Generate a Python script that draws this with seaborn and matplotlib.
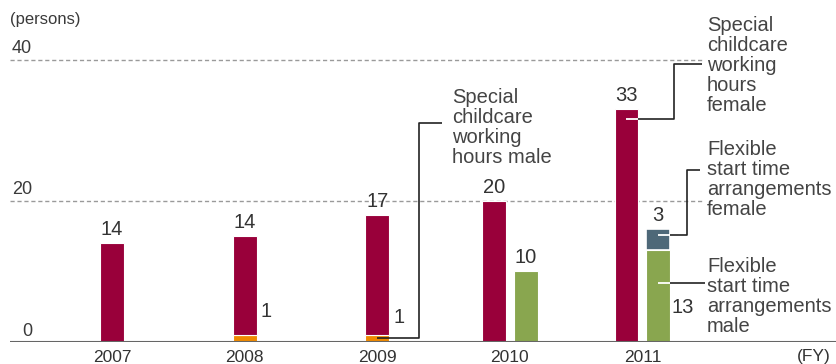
import matplotlib
matplotlib.use("Agg")
import matplotlib.pyplot as plt
import seaborn as sns
import numpy as np

# ---- data ----
years = ["2007", "2008", "2009", "2010", "2011"]
childcare_female = [14, 14, 17, 20, 33]
childcare_male = [0, 1, 1, 0, 0]
flex_male = [0, 0, 0, 10, 13]
flex_female = [0, 0, 0, 0, 3]
y_ticks = [0, 20, 40]

C_RED = "#99003A"
C_ORANGE = "#F08A00"
C_GREEN = "#89A64F"
C_BLUE = "#4E6878"
TXT = "#3a3a3a"

sns.set_theme(style="white")
plt.rcParams["font.family"] = ["Liberation Sans", "DejaVu Sans"]

W, H = 836, 364
X0, SX = 112.0, 132.6   # pixel of first group, pixels per group
Y0, SY = 342.0, 7.06    # pixel of zero line, pixels per unit


def px2x(px):
    return (px - X0) / SX


def py2y(py):
    return (Y0 - py) / SY


fig = plt.figure(figsize=(W / 100, H / 100), dpi=100)
ax = fig.add_axes([0, (H - Y0) / H, 1, Y0 / H])
ax.set_xlim(px2x(0), px2x(W))
ax.set_ylim(0, Y0 / SY)
for s in ax.spines.values():
    s.set_visible(False)
ax.set_yticks([])

bw = 0.18
off = 0.12
idx = np.arange(len(years))
has_flex = np.array([(m + f) > 0 for m, f in zip(flex_male, flex_female)])
pos_cc = idx - np.where(has_flex, off, 0.0)
pos_fx = idx + off

# grid lines & baseline
for t in y_ticks[1:]:
    ax.hlines(t, px2x(10), px2x(703), colors="#9a9a9a", linestyles=(0, (3, 2)), lw=1.0, zorder=1)
ax.hlines(0, px2x(10), px2x(W), colors="#666666", lw=1.5, zorder=4)
for t in y_ticks:
    ax.text(px2x(32), t + 6.5 / SY, str(t), ha="right", va="baseline",
            fontsize=13, color=TXT)
ax.text(px2x(10), py2y(24), "(persons)", ha="left", va="baseline", fontsize=12, color=TXT)

# bars
cm = np.array(childcare_male, dtype=float)
cf = np.array(childcare_female, dtype=float)
fm = np.array(flex_male, dtype=float)
ff = np.array(flex_female, dtype=float)

ax.bar(pos_cc, cm, width=bw, color=C_ORANGE, edgecolor="white", lw=0.8, zorder=3)
ax.bar(pos_cc, cf, bottom=cm, width=bw, color=C_RED, edgecolor="white", lw=0.8, zorder=3)
ax.bar(pos_fx[has_flex], fm[has_flex], width=bw, color=C_GREEN, edgecolor="white", lw=0.8, zorder=3)
ax.bar(pos_fx[ff > 0], ff[ff > 0], bottom=fm[ff > 0], width=bw, color=C_BLUE,
       edgecolor="white", lw=1.2, zorder=3)

# value labels
NUM = dict(fontsize=14.5, color="#333333")
lab_off = 8 / SY
for i in range(len(years)):
    ax.text(pos_cc[i], cm[i] + cf[i] + lab_off, f"{childcare_female[i]}", ha="center", va="baseline", **NUM)
    if cm[i] > 0:
        ax.text(pos_cc[i] + bw / 2 + 0.03, cm[i] + (2.6 if i == 1 else 1.7),
                f"{childcare_male[i]}", ha="left", va="baseline", **NUM)
    if has_flex[i]:
        if ff[i] > 0:
            ax.text(pos_fx[i], fm[i] + ff[i] + lab_off, f"{flex_female[i]}", ha="center", va="baseline", **NUM)
            ax.text(pos_fx[i] + bw / 2 + 0.01, py2y(313), f"{flex_male[i]}", ha="left", va="baseline", **NUM)
        else:
            ax.text(pos_fx[i], fm[i] + lab_off, f"{flex_male[i]}", ha="center", va="baseline", **NUM)

# connectors
LK = dict(color="#222222", lw=1.2, zorder=5, solid_capstyle="butt")
WK = dict(color="white", lw=1.3, zorder=5, solid_capstyle="butt")
# male childcare (2009)
ax.plot([pos_cc[2], px2x(419), px2x(419), px2x(442)],
        [cm[2] / 2, cm[2] / 2, py2y(123), py2y(123)], **LK)
# female childcare (2011)
yf = py2y(119)
ax.plot([pos_cc[4], pos_cc[4] + bw / 2], [yf, yf], **WK)
ax.plot([pos_cc[4] + bw / 2, px2x(674), px2x(674), px2x(702)], [yf, yf, py2y(64), py2y(64)], **LK)
# flexible female (2011)
yb = py2y(235)
ax.plot([pos_fx[4], pos_fx[4] + bw / 2], [yb, yb], **WK)
ax.plot([pos_fx[4] + bw / 2, px2x(687), px2x(687), px2x(700)], [yb, yb, py2y(170), py2y(170)], **LK)
# flexible male (2011)
yg = py2y(283)
ax.plot([pos_fx[4], pos_fx[4] + bw / 2], [yg, yg], **WK)
ax.plot([pos_fx[4] + bw / 2, px2x(705)], [yg, yg], **LK)

# annotation texts (anchored at the baseline of their last line)
ANN = dict(fontsize=14.5, color="#444444", ha="left", va="baseline", linespacing=1.06)
ax.text(px2x(452), py2y(163), "Special\nchildcare\nworking\nhours male", **ANN)
ax.text(px2x(707), py2y(111), "Special\nchildcare\nworking\nhours\nfemale", **ANN)
ax.text(px2x(707), py2y(215), "Flexible\nstart time\narrangements\nfemale", **ANN)
ax.text(px2x(707), py2y(332), "Flexible\nstart time\narrangements\nmale", **ANN)

# x axis labels
ax.set_xticks(idx)
ax.set_xticklabels(years)
ax.tick_params(axis="x", length=0, pad=5.5, labelsize=12.5, labelcolor="#333333")
ax.text(px2x(797), py2y(349), "(FY)", ha="left", va="top", fontsize=12.5, color="#333333", clip_on=False)

fig.savefig("out.png", dpi=100)
